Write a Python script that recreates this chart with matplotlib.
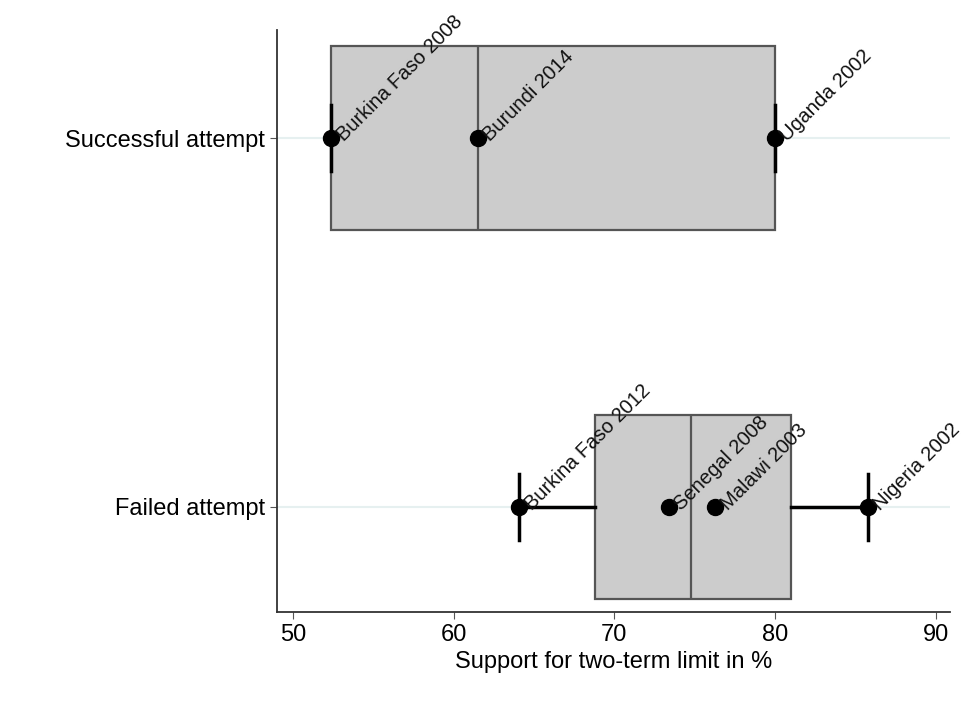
import matplotlib as mpl
mpl.use('Agg')
import matplotlib.pyplot as plt

plt.rcParams['font.family'] = ['Liberation Sans', 'DejaVu Sans']

groups = ["Failed attempt", "Successful attempt"]

# box stats: (whislo, q1, med, q3, whishi)
box_stats = [
    (64.1, 68.8, 74.8, 81.0, 85.8),
    (52.4, 52.4, 61.5, 80.0, 80.0),
]

# labelled cases
failed_vals = [64.1, 73.4, 76.3, 85.8]
failed_names = ["Burkina Faso 2012", "Senegal 2008", "Malawi 2003", "Nigeria 2002"]
success_vals = [52.4, 61.5, 80.0]
success_names = ["Burkina Faso 2008", "Burundi 2014", "Uganda 2002"]

fig = plt.figure(figsize=(9.61, 7.07), dpi=100)
ax = fig.add_axes([0.288, 0.1344, 0.7006, 0.8232])

stats = []
for g, (lo, q1, med, q3, hi) in zip(groups, box_stats):
    stats.append({"label": g, "whislo": lo, "q1": q1, "med": med,
                  "q3": q3, "whishi": hi, "fliers": []})

for y in range(len(groups)):
    ax.axhline(y, color='#e6f0f0', lw=1.5, zorder=0)

ax.bxp(stats, positions=[0, 1], vert=False, widths=0.5, patch_artist=True,
       showfliers=False, capwidths=0.18,
       boxprops=dict(facecolor='#cccccc', edgecolor='#555555', lw=1.6),
       medianprops=dict(color='#555555', lw=1.6),
       whiskerprops=dict(color='black', lw=2.5),
       capprops=dict(color='black', lw=2.5))

for y, vals, names in [(0, failed_vals, failed_names), (1, success_vals, success_names)]:
    ax.plot(vals, [y] * len(vals), 'o', color='black', ms=11.5, zorder=5)
    for v, n in zip(vals, names):
        ax.annotate(n, (v, y), xytext=(6, 0), textcoords='offset points',
                    rotation=45, rotation_mode='anchor', ha='left', va='center',
                    fontsize=14.5, color='#111111', zorder=6)

ax.set_xlim(49.0, 90.9)
ax.set_ylim(-0.285, 1.293)
ax.set_xticks([50, 60, 70, 80, 90])
ax.set_yticks([0, 1])
ax.set_yticklabels(groups)
ax.tick_params(axis='both', labelsize=17, color='#555555', length=5)
ax.set_xlabel('Support for two-term limit in %', fontsize=17, labelpad=4)

for s in ['top', 'right']:
    ax.spines[s].set_visible(False)
for s in ['left', 'bottom']:
    ax.spines[s].set_color('#333333')
    ax.spines[s].set_linewidth(1.3)

fig.savefig("out.png")
